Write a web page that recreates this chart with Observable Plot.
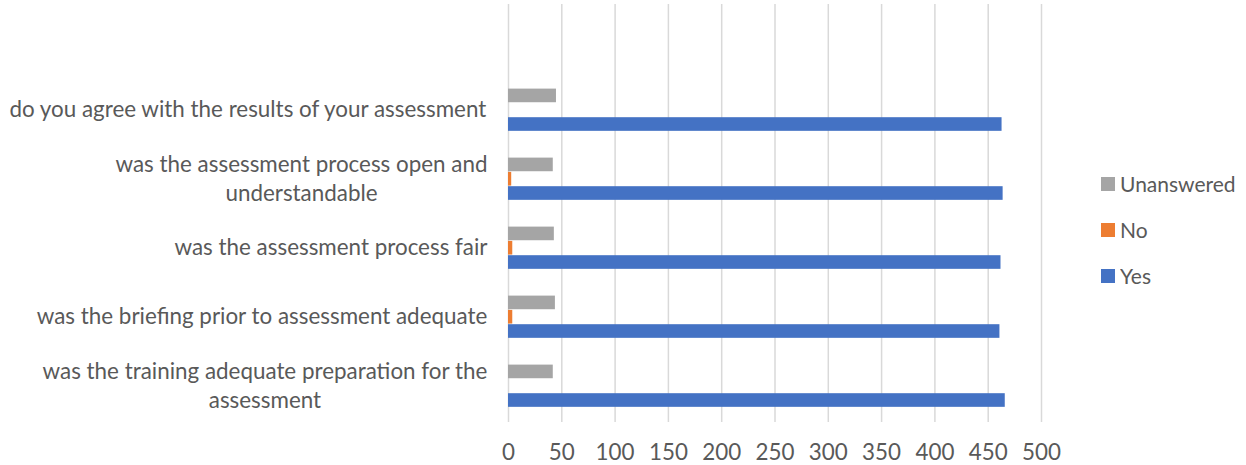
<!DOCTYPE html>
<html>
<head>
<meta charset="utf-8">
<script src="https://cdn.jsdelivr.net/npm/d3@7"></script>
<script src="https://cdn.jsdelivr.net/npm/@observablehq/plot@0.6"></script>
<style>
  html, body { margin: 0; padding: 0; background: #fff; }
  #wrap { position: relative; width: 1246px; height: 465px; font-family: Lato, sans-serif; }
  #legend { position: absolute; left: 1101px; top: 171px; }
  #legend .lg-swatch { margin-bottom: 20px !important; font-size: 21px; color: #595959; }
  #legend .lg-swatch svg { margin-right: 5px !important; }
</style>
</head>
<body>
<div id="wrap"></div>
<script>
// ---- data ----
const questions = [
  "do you agree with the results of your assessment",
  "was the assessment process open and understandable",
  "was the assessment process fair",
  "was the briefing prior to assessment adequate",
  "was the training adequate preparation for the assessment"
];
const labelLines = [
  ["do you agree with the results of your assessment"],
  ["was the assessment process open and", "understandable"],
  ["was the assessment process fair"],
  ["was the briefing prior to assessment adequate"],
  ["was the training adequate preparation for the", "assessment"]
];
const series = ["Unanswered", "No", "Yes"];
const yesValues = [463, 464, 462, 461, 466];
const noValues = [0, 3, 4, 4, 0];
const unansweredValues = [45, 42, 43, 44, 42];
const xTicks = [0, 50, 100, 150, 200, 250, 300, 350, 400, 450, 500];
const colors = ["#A5A5A5", "#ED7D31", "#4472C4"];

const FONT = "Lato, sans-serif";
const FS = 22.4;
const TEXT = "#595959";

function draw() {
  const valuesBySeries = {Unanswered: unansweredValues, No: noValues, Yes: yesValues};

  const H = 465, MT = 4, MB = 43;
  const band = (H - MT - MB) / (questions.length + 1);
  const barH = 14.3;
  const top0 = 13.6;

  const ctx = document.createElement("canvas").getContext("2d");
  ctx.font = `${FS}px ${FONT}`;

  const barMarks = series.map((s, k) => {
    const rows = questions.map((q, i) => ({question: q, series: s, value: valuesBySeries[s][i]}));
    const insetTop = top0 + k * barH;
    return Plot.barX(rows, {
      x: "value", y: "question", fill: "series",
      insetTop, insetBottom: band - insetTop - barH
    });
  });

  const labelMarks = questions.map((q, i) => {
    const w = d3.max(labelLines[i], s => ctx.measureText(s).width);
    return Plot.text([q], {
      y: d => d,
      text: () => labelLines[i].join("\n"),
      frameAnchor: "left",
      textAnchor: "middle",
      dx: -(21 + w / 2),
      dy: -2,
      lineHeight: 29 / FS,
      fontSize: FS,
      fill: TEXT
    });
  });

  const chart = Plot.plot({
    width: 1246,
    height: H,
    marginLeft: 508,
    marginRight: 205,
    marginTop: MT,
    marginBottom: MB,
    style: {fontFamily: FONT, fontSize: FS + "px", color: TEXT, background: "#fff"},
    x: {domain: [0, 500], axis: null},
    y: {domain: ["", ...questions], padding: 0, axis: null},
    color: {domain: series, range: colors},
    marks: [
      Plot.gridX(xTicks, {stroke: "#d9d9d9", strokeOpacity: 1, strokeWidth: 1.5}),
      ...barMarks,
      Plot.axisX({ticks: xTicks, tickSize: 0, tickPadding: 22, fontSize: FS, fill: TEXT, label: null, tickFormat: d => String(d)}),
      ...labelMarks
    ]
  });

  const wrap = document.getElementById("wrap");
  wrap.appendChild(chart);

  const legend = Plot.legend({
    color: {domain: series, range: colors},
    legend: "swatches",
    columns: 1,
    swatchSize: 14,
    className: "lg",
    style: {fontFamily: FONT, fontSize: "21px", color: TEXT}
  });
  const lg = document.createElement("div");
  lg.id = "legend";
  lg.appendChild(legend);
  wrap.appendChild(lg);
}

if (document.fonts && document.fonts.load) {
  document.fonts.load(`${FS}px Lato`).then(draw, draw);
} else {
  draw();
}
</script>
</body>
</html>
